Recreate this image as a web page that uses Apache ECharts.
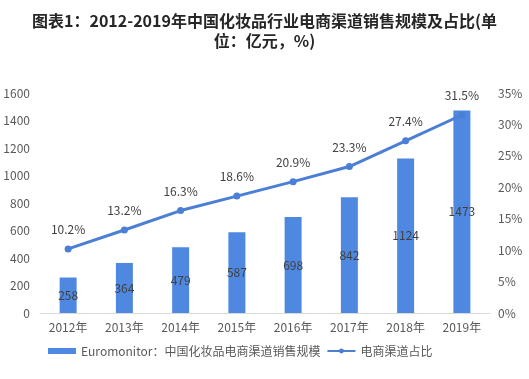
<!DOCTYPE html>
<html><head><meta charset="utf-8">
<script src="https://cdn.jsdelivr.net/npm/echarts@6/dist/echarts.min.js"></script>
<style>html,body{margin:0;padding:0;background:#fff}#c{width:529px;height:379px}</style>
</head><body><div id="c"></div>
<script>
const categories = ['2012年','2013年','2014年','2015年','2016年','2017年','2018年','2019年'];
const salesValues = [258, 364, 479, 587, 698, 842, 1124, 1473];
const shareValues = [10.2, 13.2, 16.3, 18.6, 20.9, 23.3, 27.4, 31.5];
const leftTicks = [0, 1600, 200];
const rightTicks = [0, 35, 5];
const titleText = '图表1：2012-2019年中国化妆品行业电商渠道销售规模及占比(单\n位：亿元，%)';
const barName = 'Euromonitor：中国化妆品电商渠道销售规模';
const lineName = '电商渠道占比';

const chart = echarts.init(document.getElementById('c'), null, {renderer:'canvas'});
const font = '"Microsoft YaHei","Noto Sans CJK SC","DejaVu Sans",sans-serif';
chart.setOption({
  animation:false,
  textStyle:{fontFamily:font},
  title:{text:titleText,left:'center',top:6,textStyle:{fontSize:16,fontWeight:'bold',color:'#262626',lineHeight:20,fontFamily:font,align:'center'}},
  grid:{left:40,right:39,top:93,bottom:66,containLabel:false},
  legend:{bottom:17,left:43,itemGap:6,itemWidth:28,itemHeight:6,textStyle:{fontSize:12,color:'#595959'},
    data:[{name:barName,icon:'rect'},{name:lineName}]},
  xAxis:{type:'category',data:categories,axisTick:{show:false},
    axisLine:{lineStyle:{color:'#d9d9d9'}},axisLabel:{color:'#595959',fontSize:12,margin:8}},
  yAxis:[
    {type:'value',min:leftTicks[0],max:leftTicks[1],interval:leftTicks[2],splitLine:{show:false},
     axisLabel:{color:'#595959',fontSize:12,margin:10,formatter:v=>String(v)}},
    {type:'value',min:rightTicks[0],max:rightTicks[1],interval:rightTicks[2],splitLine:{show:false},
     axisLabel:{color:'#595959',fontSize:12,formatter:'{value}%',margin:8}}
  ],
  series:[
    {name:barName,type:'bar',data:salesValues,barWidth:17,itemStyle:{color:'#4f88e0'},
     label:{show:true,position:'inside',color:'#404040',fontSize:12}},
    {name:lineName,type:'line',yAxisIndex:1,data:shareValues,symbol:'circle',symbolSize:7,
     lineStyle:{color:'#4a7fd5',width:3},itemStyle:{color:'#4a7fd5'},
     label:{show:true,position:'top',distance:10,color:'#404040',fontSize:12,formatter:p=>p.value.toFixed(1)+'%'}}
  ]
});
</script></body></html>
